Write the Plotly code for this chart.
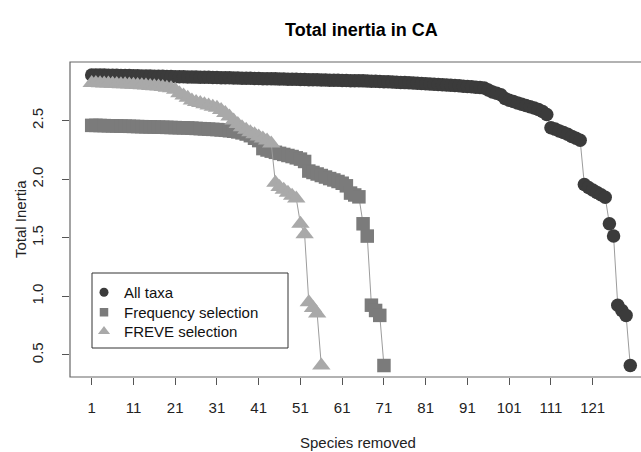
import plotly.graph_objects as go

# ---- data ----
all_taxa = [
    2.890, 2.890, 2.889, 2.889, 2.888, 2.888, 2.887, 2.886, 2.885, 2.885,
    2.884, 2.883, 2.882, 2.882, 2.881, 2.880, 2.879, 2.879, 2.878, 2.877,
    2.876, 2.875, 2.875, 2.874, 2.873, 2.872, 2.871, 2.870, 2.870, 2.869,
    2.868, 2.867, 2.866, 2.866, 2.865, 2.864, 2.863, 2.862, 2.862, 2.861,
    2.860, 2.859, 2.858, 2.858, 2.857, 2.856, 2.855, 2.854, 2.854, 2.853,
    2.852, 2.851, 2.850, 2.850, 2.849, 2.848, 2.847, 2.846, 2.846, 2.845,
    2.844, 2.843, 2.842, 2.842, 2.841, 2.840, 2.838, 2.837, 2.836, 2.835,
    2.833, 2.832, 2.830, 2.829, 2.827, 2.825, 2.823, 2.821, 2.819, 2.817,
    2.815, 2.813, 2.811, 2.809, 2.807, 2.805, 2.803, 2.800, 2.798, 2.795,
    2.792, 2.789, 2.786, 2.783, 2.779, 2.762, 2.745, 2.735, 2.722, 2.690,
    2.675, 2.664, 2.652, 2.641, 2.630, 2.619, 2.608, 2.596, 2.578, 2.552,
    2.440, 2.428, 2.413, 2.400, 2.384, 2.366, 2.350, 2.333,
    1.955, 1.930, 1.908, 1.888, 1.868, 1.846,
    1.620, 1.515, 0.925, 0.880, 0.838, 0.410,
]

freq_sel = [
    2.460, 2.460, 2.459, 2.458, 2.457, 2.456, 2.455, 2.454, 2.453, 2.452,
    2.451, 2.450, 2.449, 2.448, 2.447, 2.446, 2.445, 2.444, 2.443, 2.442,
    2.441, 2.440, 2.439, 2.438, 2.436, 2.434, 2.432, 2.430, 2.428, 2.426,
    2.424, 2.421, 2.418, 2.414, 2.410, 2.404, 2.396, 2.386, 2.372, 2.350,
    2.330, 2.262, 2.250, 2.240, 2.230, 2.221, 2.212, 2.203, 2.194, 2.183,
    2.172, 2.152, 2.070, 2.058, 2.045, 2.032, 2.019, 2.006, 1.994, 1.981,
    1.966, 1.944, 1.882, 1.866, 1.850,
    1.620, 1.515, 0.925, 0.880, 0.838, 0.410,
]

freve_sel = [
    2.822, 2.821, 2.820, 2.818, 2.817, 2.815, 2.814, 2.812, 2.810, 2.808,
    2.806, 2.804, 2.802, 2.800, 2.797, 2.794, 2.791, 2.787, 2.782, 2.776,
    2.765, 2.735, 2.715, 2.695, 2.672, 2.660, 2.650, 2.640, 2.630, 2.620,
    2.610, 2.592, 2.565, 2.535, 2.502, 2.472, 2.445, 2.422, 2.402, 2.384,
    2.366, 2.348, 2.330, 2.305,
    1.970, 1.935, 1.910, 1.885, 1.860, 1.835,
    1.620, 1.530, 0.950, 0.900, 0.855, 0.410,
]

series_names = ["All taxa", "Frequency selection", "FREVE selection"]
x_ticks = [1, 11, 21, 31, 41, 51, 61, 71, 81, 91, 101, 111, 121]
y_ticks = [0.5, 1.0, 1.5, 2.0, 2.5]
y_tick_labels = ["0.5", "1.0", "1.5", "2.0", "2.5"]

FONT = "Liberation Sans, Arial, sans-serif"
colors = ["#3b3b3b", "#7b7b7b", "#a9a9a9"]
symbols = ["circle", "square", "triangle-up"]
sizes = [13.5, 13.5, 16]
legend_sizes = [9, 8.5, 10.5]
legend_ids = ["legend", "legend2", "legend3"]
line_color = "#9c9c9c"

fig = go.Figure()
for name, vals, col, sym, sz in zip(series_names, [all_taxa, freq_sel, freve_sel],
                                     colors, symbols, sizes):
    fig.add_trace(go.Scatter(
        x=list(range(1, len(vals) + 1)), y=vals, mode="lines+markers",
        line=dict(color=line_color, width=1),
        marker=dict(color=col, symbol=sym, size=sz, line=dict(width=0)),
        showlegend=False, name=name, hoverinfo="skip"))

# legend entries (markers only, like R's legend), one legend box per row
for name, col, sym, sz, lid in zip(series_names, colors, symbols, legend_sizes, legend_ids):
    fig.add_trace(go.Scatter(
        x=[None], y=[None], mode="markers", name=name, legend=lid,
        marker=dict(color=col, symbol=sym, size=sz, line=dict(width=0)),
        showlegend=True))

W, H = 641, 452
L, T, B = 70, 62, 377
R = 641
pw, ph = R - L, B - T

def px(xp):
    return (xp - L) / pw

def py(yp):
    return (B - yp) / ph

def leg(top):
    return dict(x=px(84), y=py(top), xanchor="left", yanchor="top",
                bgcolor="rgba(0,0,0,0)", borderwidth=0,
                font=dict(family=FONT, size=15, color="#111111"),
                itemsizing="trace")

fig.update_layout(
    width=W, height=H,
    margin=dict(l=L, r=W - R, t=T, b=H - B, pad=0),
    paper_bgcolor="white", plot_bgcolor="white",
    font=dict(family=FONT, size=15, color="#000000"),
    xaxis=dict(range=[-4.198, 132.57], tickvals=x_ticks,
               ticktext=[str(v) for v in x_ticks],
               ticks="outside", ticklen=7, tickwidth=1, tickcolor="#555555",
               showgrid=False, zeroline=False, showline=False,
               ticklabelstandoff=10,
               tickfont=dict(family=FONT, size=15, color="#222222")),
    yaxis=dict(range=[0.312, 3.001], tickvals=y_ticks, ticktext=y_tick_labels,
               ticks="outside", ticklen=7, tickwidth=1, tickcolor="#555555",
               showgrid=False, zeroline=False, showline=False,
               tickangle=-90, ticklabelstandoff=13,
               tickfont=dict(family=FONT, size=15, color="#222222")),
    showlegend=True,
    legend=leg(276), legend2=leg(296), legend3=leg(315),
    shapes=[
        dict(type="rect", xref="paper", yref="paper", x0=0, x1=1.2, y0=0, y1=1,
             line=dict(color="#666666", width=1.2), fillcolor="rgba(0,0,0,0)",
             layer="above"),
        dict(type="rect", xref="paper", yref="paper",
             x0=px(92), x1=px(288), y0=py(348), y1=py(273),
             line=dict(color="#333333", width=1), fillcolor="rgba(0,0,0,0)"),
    ],
    annotations=[
        dict(text="<b>Total inertia in CA</b>", xref="paper", yref="paper",
             x=px(361), y=py(30), xanchor="center", yanchor="middle",
             showarrow=False, font=dict(family=FONT, size=18, color="#000000")),
        dict(text="Species removed", xref="paper", yref="paper",
             x=px(358), y=py(442), xanchor="center", yanchor="middle",
             showarrow=False, font=dict(family=FONT, size=15, color="#222222")),
        dict(text="Total Inertia", xref="paper", yref="paper",
             x=px(20), y=py(219), xanchor="center", yanchor="middle",
             textangle=-90, showarrow=False,
             font=dict(family=FONT, size=15, color="#222222")),
    ],
)

fig.write_html("out.html")
